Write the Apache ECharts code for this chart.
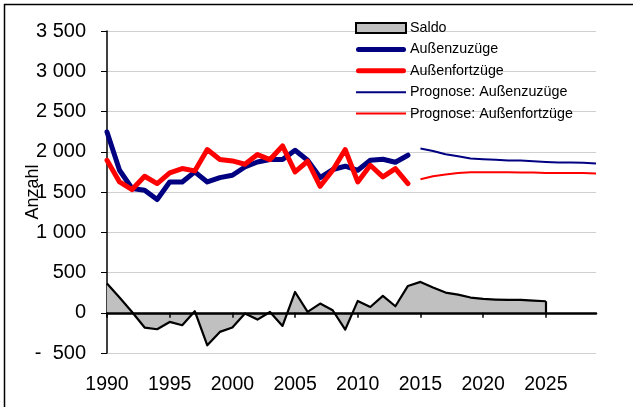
<!DOCTYPE html>
<html>
<head>
<meta charset="utf-8">
<script src="https://cdn.jsdelivr.net/npm/echarts@6/dist/echarts.min.js"></script>
<style>
html,body{margin:0;padding:0;background:#fff;}
#chart{width:633px;height:407px;}
</style>
</head>
<body>
<div id="chart"></div>
<script>
// ---- data ----
var histYears = [1990,1991,1992,1993,1994,1995,1996,1997,1998,1999,2000,2001,2002,2003,2004,2005,2006,2007,2008,2009,2010,2011,2012,2013,2014];
var zuzuege   = [2246,1770,1543,1522,1406,1625,1625,1750,1625,1679,1708,1811,1873,1903,1903,2019,1894,1679,1779,1820,1770,1894,1907,1870,1957];
var fortzuege = [1894,1625,1530,1696,1605,1737,1791,1762,2027,1903,1886,1845,1965,1903,2072,1750,1882,1571,1770,2027,1625,1832,1687,1791,1605];
var progYears = [2015,2016,2017,2018,2019,2020,2021,2022,2023,2024,2025,2026,2027,2028,2029];
var progZu    = [2040,2010,1969,1944,1915,1907,1900,1890,1890,1882,1873,1866,1866,1862,1853];
var progFort  = [1658,1696,1717,1737,1745,1745,1745,1745,1741,1741,1737,1737,1737,1737,1729];
var saldoYears = [1990,1991,1992,1993,1994,1995,1996,1997,1998,1999,2000,2001,2002,2003,2004,2005,2006,2007,2008,2009,2010,2011,2012,2013,2014,2015,2016,2017,2018,2019,2020,2021,2022,2023,2024,2025];
var saldo      = [363,189,10,-184,-205,-114,-155,19,-404,-238,-184,-10,-85,10,-164,258,10,114,31,-209,147,72,209,81,333,383,313,251,226,189,172,164,159,159,151,143];
var xTickYears = [1990,1995,2000,2005,2010,2015,2020,2025];
var seriesNames = ['Saldo','Außenzuzüge','Außenfortzüge','Prognose: Außenzuzüge','Prognose: Außenfortzüge'];
var yAxisName = 'Anzahl';

function pairs(xs, ys){ return xs.map(function(x,i){ return [x, ys[i]]; }); }
function fmtY(v){
  var a = Math.abs(v);
  var s = a >= 1000 ? Math.floor(a/1000) + ' ' + String(a%1000).padStart(3,'0') : String(a);
  return v < 0 ? '-  ' + s : s;
}
var lastSaldoYear = saldoYears[saldoYears.length-1];
var lastSaldo = saldo[saldo.length-1];
var FONT = 'Liberation Sans, Arial, sans-serif';
var thickIcon = 'path://M0,0M50,10M2.5,2.5L47.5,2.5A2.5,2.5,0,0,1,47.5,7.5L2.5,7.5A2.5,2.5,0,0,1,2.5,2.5Z';
var thinIcon = 'path://M0,0M50,10M0,4L50,4L50,6L0,6Z';

var chart = echarts.init(document.getElementById('chart'), null, {renderer:'canvas'});
chart.setOption({
  animation: false,
  backgroundColor: '#fff',
  grid: { left: 107, right: 37, top: 31, bottom: 54, containLabel: false },
  legend: {
    orient: 'vertical', left: 350, top: 16,
    itemWidth: 50, itemHeight: 10, itemGap: 7.4,
    textStyle: { fontFamily: FONT, fontSize: 14.3, color: '#000', lineHeight: 14, padding: [0,0,0,-1] },
    data: [
      { name: seriesNames[0], icon: 'rect', itemStyle: { color: '#c0c0c0', borderColor: '#000', borderWidth: 2 } },
      { name: seriesNames[1], icon: thickIcon, itemStyle: { color: '#000080', borderWidth: 0 } },
      { name: seriesNames[2], icon: thickIcon, itemStyle: { color: '#ff0000', borderWidth: 0 } },
      { name: seriesNames[3], icon: thinIcon, itemStyle: { color: '#000080', borderWidth: 0 } },
      { name: seriesNames[4], icon: thinIcon, itemStyle: { color: '#ff0000', borderWidth: 0 } }
    ]
  },
  xAxis: [
    { type: 'value', min: 1990, max: 2029, interval: 5, position: 'bottom',
      axisLine: { show: false, onZero: false }, axisTick: { show: false }, splitLine: { show: false },
      axisLabel: { customValues: xTickYears, margin: 22, fontFamily: FONT, fontSize: 19.5, color: '#000', formatter: function(v){ return String(v); } } },
    { type: 'value', min: 1990, max: 2029, interval: 5, position: 'bottom', z: 10,
      axisLine: { show: true, onZero: true, lineStyle: { color: '#000', width: 2.5 } },
      axisTick: { show: true, customValues: xTickYears, length: 5, lineStyle: { color: '#000', width: 1.5 } },
      axisLabel: { show: false }, splitLine: { show: false } }
  ],
  yAxis: {
    type: 'value', min: -500, max: 3500, interval: 500,
    name: yAxisName, nameLocation: 'middle', nameGap: 65, nameRotate: 90, nameMoveOverlap: false,
    nameTextStyle: { fontFamily: FONT, fontSize: 18, color: '#000' },
    axisLine: { show: true, onZero: false, lineStyle: { color: '#000', width: 1.5 } },
    axisTick: { show: true, length: 6, lineStyle: { color: '#000', width: 1 } },
    axisLabel: { margin: 21, fontFamily: FONT, fontSize: 20, color: '#000', formatter: fmtY },
    splitLine: { show: true, lineStyle: { color: '#d0d0d0', width: 1.2 } }
  },
  series: [
    { name: seriesNames[0], type: 'line', data: pairs(saldoYears, saldo), symbol: 'none',
      lineStyle: { color: '#000', width: 2.2, join: 'round' }, itemStyle: { color: '#c0c0c0' },
      areaStyle: { color: '#c0c0c0', opacity: 1, origin: 0 }, z: 2,
      markLine: { silent: true, symbol: 'none', label: { show: false },
        lineStyle: { color: '#000', width: 2.2, type: 'solid' },
        data: [[ { coord: [lastSaldoYear, 0] }, { coord: [lastSaldoYear, lastSaldo] } ]] } },
    { name: seriesNames[1], type: 'line', data: pairs(histYears, zuzuege), symbol: 'none',
      lineStyle: { color: '#000080', width: 5, join: 'round', cap: 'round' }, itemStyle: { color: '#000080' }, z: 3 },
    { name: seriesNames[2], type: 'line', data: pairs(histYears, fortzuege), symbol: 'none',
      lineStyle: { color: '#ff0000', width: 5, join: 'round', cap: 'round' }, itemStyle: { color: '#ff0000' }, z: 4 },
    { name: seriesNames[3], type: 'line', data: pairs(progYears, progZu), symbol: 'none',
      lineStyle: { color: '#000080', width: 2, join: 'round' }, itemStyle: { color: '#000080' }, z: 3 },
    { name: seriesNames[4], type: 'line', data: pairs(progYears, progFort), symbol: 'none',
      lineStyle: { color: '#ff0000', width: 2, join: 'round' }, itemStyle: { color: '#ff0000' }, z: 3 }
  ],
  graphic: [
    { type: 'line', shape: { x1: 4, y1: 4.5, x2: 633, y2: 4.5 }, style: { stroke: '#000', lineWidth: 1.5 }, silent: true },
    { type: 'line', shape: { x1: 4.5, y1: 4, x2: 4.5, y2: 407 }, style: { stroke: '#000', lineWidth: 1.5 }, silent: true }
  ]
});
</script>
</body>
</html>
